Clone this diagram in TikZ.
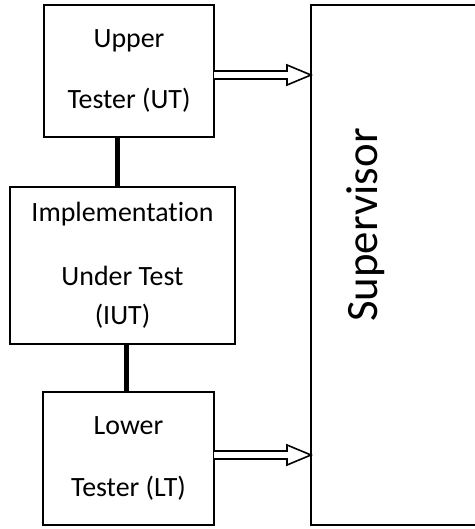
\documentclass[tikz,border=0pt]{standalone}
\usepackage{fontspec}
\setmainfont{Carlito}[Ligatures=NoCommon]
\usetikzlibrary{calc}
\begin{document}
\begin{tikzpicture}[x=1bp,y=-1bp,
  box/.style={draw, line width=2bp, inner sep=0pt, outer sep=0pt, align=center,
    font=\fontsize{28}{34}\selectfont},
  conn/.style={line width=5bp},
  arr/.style={draw, fill=white, line width=1.6bp, line join=miter}]
\useasboundingbox (0,0) rectangle (475,529);
\node[box, minimum width=170bp, minimum height=132bp] (ut) at (129,71)
  {Upper\\[28bp]Tester (UT)};
\node[box, minimum width=225bp, minimum height=157bp] (iut) at (122.5,265.5)
  {Implementation\\[30bp]Under Test\\[5bp](IUT)};
\node[box, minimum width=171bp, minimum height=133bp] (lt) at (128.5,458.5)
  {Lower\\[29bp]Tester (LT)};
\node[draw, line width=2bp, inner sep=0pt, outer sep=0pt,
  minimum width=170bp, minimum height=520bp] (sup) at (396,265) {};
\node[rotate=90, inner sep=0pt, font=\fontsize{45}{54}\selectfont] (suptext) at (366,225) {Supervisor};
% connectors
\draw[conn] ([xshift=-12bp]ut.south) -- ([xshift=-12bp]ut.south |- iut.north);
\draw[conn] ([xshift=3.5bp]iut.south) -- ([xshift=3.5bp]iut.south |- lt.north);
% hollow double arrows
\coordinate (ua) at ($(ut.east)+(0,4)$);
\draw[arr] ($(ua)+(0,-4)$) -- ($(ua -| sup.west)+(-24,-4)$) -- ($(ua -| sup.west)+(-24,-10)$)
  -- (ua -| sup.west) -- ($(ua -| sup.west)+(-24,10)$) -- ($(ua -| sup.west)+(-24,4)$) -- ($(ua)+(0,4)$);
\coordinate (la) at ($(lt.east)+(0,-3.5)$);
\draw[arr] ($(la)+(0,-4)$) -- ($(la -| sup.west)+(-24,-4)$) -- ($(la -| sup.west)+(-24,-10)$)
  -- (la -| sup.west) -- ($(la -| sup.west)+(-24,10)$) -- ($(la -| sup.west)+(-24,4)$) -- ($(la)+(0,4)$);
\end{tikzpicture}
\end{document}
